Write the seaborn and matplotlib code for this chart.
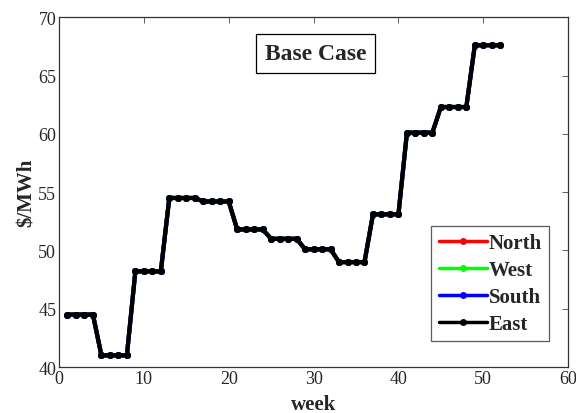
import numpy as np
import pandas as pd
import matplotlib
matplotlib.use("Agg")
import matplotlib.pyplot as plt
import seaborn as sns

weeks = list(range(1, 53))
east = [44.5, 44.5, 44.5, 44.5, 41.0, 41.0, 41.0, 41.0,
        48.2, 48.2, 48.2, 48.2, 54.5, 54.5, 54.5, 54.5,
        54.2, 54.2, 54.2, 54.2, 51.8, 51.8, 51.8, 51.8,
        51.0, 51.0, 51.0, 51.0, 50.1, 50.1, 50.1, 50.1,
        49.0, 49.0, 49.0, 49.0, 53.1, 53.1, 53.1, 53.1,
        60.1, 60.1, 60.1, 60.1, 62.3, 62.3, 62.3, 62.3,
        67.6, 67.6, 67.6, 67.6]
# the other regions sit exactly under East in the picture
north = list(east)
west = list(east)
south = list(east)
regions = ["North", "West", "South", "East"]
colors = ["#ff0000", "#00ff00", "#0000ff", "#000000"]

rows = []
for name, vals in zip(regions, [north, west, south, east]):
    for w, v in zip(weeks, vals):
        rows.append({"week": w, "price": v, "region": name})
df = pd.DataFrame(rows)

sns.set_style("white")
plt.rcParams["font.family"] = ["Liberation Serif", "DejaVu Serif"]

fig = plt.figure(figsize=(5.76, 4.14), dpi=100)
ax = fig.add_axes([0.1024, 0.111, 0.884, 0.845])

sns.lineplot(data=df, x="week", y="price", hue="region", hue_order=regions,
             palette=colors, marker="o", markersize=5, linewidth=3,
             markeredgewidth=0, ax=ax)

ax.set_xlim(0, 60)
ax.set_ylim(40, 70)
ax.set_xticks([0, 10, 20, 30, 40, 50, 60])
ax.set_yticks([40, 45, 50, 55, 60, 65, 70])
ax.tick_params(direction="in", top=True, right=True, length=4, width=0.6,
               labelsize=13, color="#444444", pad=2)
for s in ax.spines.values():
    s.set_linewidth(0.9)
    s.set_color("#333333")
ax.set_xlabel("week", fontsize=15, fontweight="bold", labelpad=5)
ax.set_ylabel("$/MWh", fontsize=15, fontweight="bold", labelpad=1)

ax.text(30.2, 66.9, "Base Case", fontsize=17, fontweight="bold",
        ha="center", va="center",
        bbox=dict(boxstyle="square,pad=0.38", fc="white", ec="black", lw=0.9))

leg = ax.legend(loc="lower right", bbox_to_anchor=(0.963, 0.074),
                prop={"weight": "bold", "size": 15},
                frameon=True, fancybox=False, edgecolor="#333333",
                handlelength=2.3, handletextpad=0.1, borderpad=0.35,
                labelspacing=0.33, borderaxespad=0)
leg.get_frame().set_linewidth(0.9)
for h in leg.get_lines():
    h.set_linewidth(2.5)
    h.set_markersize(5)

fig.savefig("out.png", dpi=100)
